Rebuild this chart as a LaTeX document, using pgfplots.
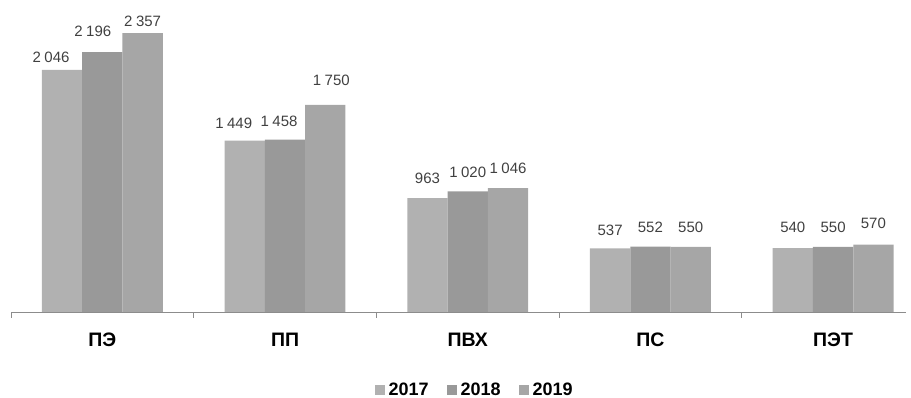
\documentclass[border=0pt]{standalone}
\usepackage{fontspec}
\setmainfont{Liberation Sans}
\usepackage{pgfplots}
\pgfplotsset{compat=1.18}
\usepackage{pgfplotstable}
\definecolor{cA}{HTML}{B1B1B1}
\definecolor{cB}{HTML}{999999}
\definecolor{cC}{HTML}{A6A6A6}
\definecolor{axg}{HTML}{8C8C8C}
\definecolor{lab}{HTML}{404040}

\pgfplotstableread{
x y dx ly
0 2046 -11 7
1 1449 -11 12
2 963 0 14
3 537 0 13
4 540 0 15
}\tA
\pgfplotstableread{
x y dx ly
0 2196 -9.5 15
1 1458 -6 13
2 1020 0 13
3 552 0 14
4 550 0 14
}\tB
\pgfplotstableread{
x y dx ly
0 2357 0 6
1 1750 6 19
2 1046 0 14
3 550 0 14
4 570 0 15.5
}\tC

\begin{document}
\begin{tikzpicture}
\useasboundingbox (-11pt,-86pt) rectangle (900pt,312pt);
\begin{axis}[
  scale only axis,
  width=895pt, height=307.6pt,
  xmin=-0.5, xmax=4.399, ymin=0, ymax=2600,
  axis x line*=bottom,
  axis y line=none,
  axis line style={draw=axg, line width=0.8pt},
  ybar=0pt, bar width=40.3pt,
  xtick={0,1,2,3,4},
  xticklabels={ПЭ,ПП,ПВХ,ПС,ПЭТ},
  major tick length=0pt,
  xticklabel style={font=\bfseries\fontsize{19.5}{19.5}\selectfont, text=black, anchor=base, yshift=-35pt, inner sep=0pt},
  extra x ticks={-0.5,0.5,1.5,2.5,3.5},
  extra x tick labels={},
  extra x tick style={major tick length=6pt, tick align=outside, tick style={draw=axg, line width=0.8pt}},
  clip=false,
  nodes near coords={\pgfmathprintnumber[assume math mode=true, 1000 sep={\hspace{3.5pt}}]{\pgfplotspointmeta}},
  visualization depends on={\thisrow{dx} \as \ldx},
  visualization depends on={\thisrow{ly} \as \lly},
  every node near coord/.append style={inner sep=0pt, xshift=\ldx pt, yshift=\lly pt, font=\fontsize{15}{15}\selectfont, text=lab},
  legend columns=3,
  legend style={draw=none, at={(0.518,-0.252)}, anchor=center, font=\bfseries\fontsize{18}{18}\selectfont,
    /tikz/every odd column/.append style={column sep=2pt},
    /tikz/every even column/.append style={column sep=16pt}},
  legend image code/.code={\fill[#1] (0pt,-5.5pt) rectangle (10pt,4.5pt);},
]
\addplot[fill=cA, draw=none] table[x=x, y=y] {\tA};
\addplot[fill=cB, draw=none] table[x=x, y=y] {\tB};
\addplot[fill=cC, draw=none] table[x=x, y=y] {\tC};
\legend{2017,2018,2019}
\end{axis}
\end{tikzpicture}
\end{document}
